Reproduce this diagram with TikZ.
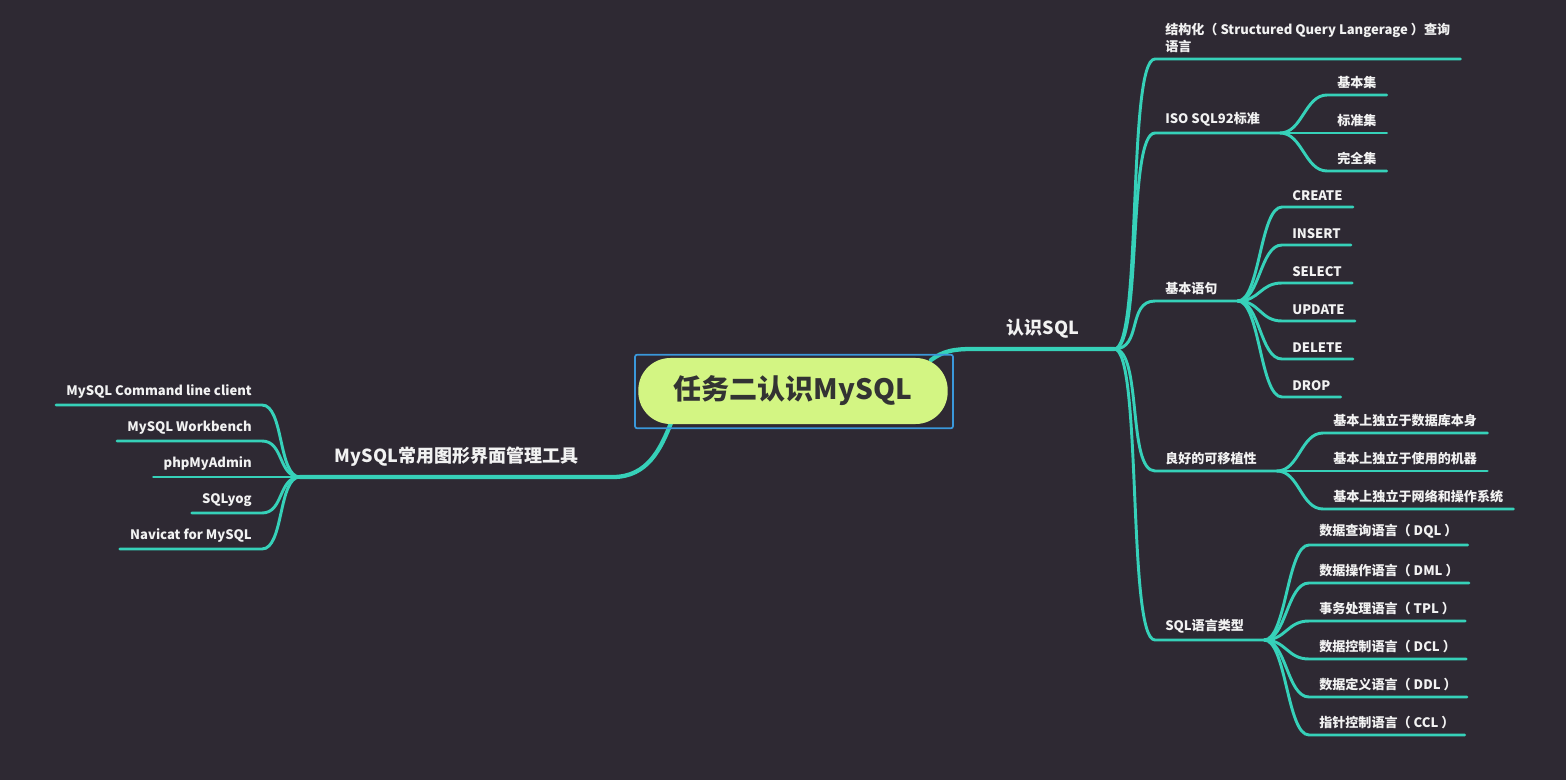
\documentclass[tikz,border=0pt]{standalone}
\usepackage{fontspec}
\setmainfont{Noto Sans CJK SC}
\usetikzlibrary{positioning}
\definecolor{bgdark}{HTML}{2E2933}
\definecolor{branchcol}{HTML}{36D1B9}
\definecolor{rootfill}{HTML}{D3F583}
\definecolor{framecol}{HTML}{3A98DB}
\definecolor{roottext}{HTML}{333333}
\definecolor{leaftext}{HTML}{F2F2F2}
\tikzset{
  root/.style={fill=rootfill,text=roottext,rounded corners=24pt,minimum width=232pt,
    minimum height=49.5pt,font=\fontsize{21}{25}\selectfont\bfseries},
  rootframe/.style={draw=framecol,line width=1.3pt,rounded corners=1.5pt},
  topic/.style={text=leaftext,font=\fontsize{13.5}{16}\selectfont\bfseries,inner xsep=26pt,inner ysep=8pt},
  subtopic/.style={text=leaftext,font=\fontsize{9.8}{12.75}\selectfont\bfseries,inner xsep=7.5pt,inner ysep=4.6pt,align=left},
  mainline/.style={draw=branchcol,line width=3.2pt,line cap=round},
  twig/.style={draw=branchcol,line width=2.2pt,line cap=round}
}

\begin{document}
\begin{tikzpicture}[x=0.75pt,y=-0.75pt]
    % Background and page size
    \fill[bgdark] (0,0) rectangle (1566,780);
    \useasboundingbox (0,0) rectangle (1566,780);

    % Main branches (drawn first, the central topic goes on top)
    \node[topic,anchor=south west] (sql) at (972,349) {认识SQL};
    \node[topic,anchor=south west] (tools) at (300,477) {MySQL常用图形界面管理工具};
    \coordinate (rootne) at (931,360);
    \coordinate (rootsw) at (671,423);
    \draw[mainline] (rootne) .. controls +(12,-9) and +(-18,0) .. (sql.south west) -- (sql.south east);
    \draw[mainline] (rootsw) .. controls +(-10,25) and +(35,0) .. (tools.south east) -- (tools.south west);

    % Central topic and its frame
    \node[root] (root) at (793,391) {任务二认识MySQL};
    \draw[rootframe] ([shift={(-3,-3)}]root.north west) rectangle ([shift={(5,4)}]root.south east);

    % Second level on the right
    \node[subtopic,anchor=south west] (sqldef) at (1155,59) {结构化（ Structured Query Langerage ）查询\\语言};
    \draw[twig] (sql.south east) .. controls +(28,0) and +(-28,0) .. (sqldef.south west) -- (sqldef.south east);
    \node[subtopic,anchor=south west] (iso) at (1155,133) {ISO SQL92标准};
    \node[subtopic,anchor=south west] (stmt) at (1155,301) {基本语句};
    \node[subtopic,anchor=south west] (port) at (1155,471) {良好的可移植性};
    \node[subtopic,anchor=south west] (kind) at (1155,640) {SQL语言类型};
    \foreach \n in {iso,stmt,port,kind}
      \draw[twig] (sql.south east) .. controls +(28,0) and +(-28,0) .. (\n.south west)
        -- ([xshift=7.5pt]\n.south east) coordinate (\n-j);

    % Leaves of ISO SQL92
    \foreach \y/\txt in {95/基本集,133/标准集,171/完全集}{
      \node[subtopic,anchor=south west] (iso-\y) at (1327,\y) {\txt};
      \draw[twig] (iso-j) .. controls +(22,0) and +(-22,0) .. (iso-\y.south west) -- (iso-\y.south east);
    }
    % Leaves of the basic statements
    \foreach \y/\txt in {207/CREATE,245/INSERT,283/SELECT,321/UPDATE,359/DELETE,397/DROP}{
      \node[subtopic,anchor=south west] (stmt-\y) at (1282,\y) {\txt};
      \draw[twig] (stmt-j) .. controls +(22,0) and +(-22,0) .. (stmt-\y.south west) -- (stmt-\y.south east);
    }
    % Leaves of portability
    \foreach \y/\txt in {433/基本上独立于数据库本身,471/基本上独立于使用的机器,509/基本上独立于网络和操作系统}{
      \node[subtopic,anchor=south west] (port-\y) at (1323,\y) {\txt};
      \draw[twig] (port-j) .. controls +(22,0) and +(-22,0) .. (port-\y.south west) -- (port-\y.south east);
    }
    % Leaves of the language types
    \foreach \y/\txt in {545/数据查询语言（ DQL ）,583/数据操作语言（ DML ）,621/事务处理语言（ TPL ）,
                         659/数据控制语言（ DCL ）,697/数据定义语言（ DDL ）,735/指针控制语言（ CCL ）}{
      \node[subtopic,anchor=south west] (kind-\y) at (1309,\y) {\txt};
      \draw[twig] (kind-j) .. controls +(22,0) and +(-22,0) .. (kind-\y.south west) -- (kind-\y.south east);
    }

    % Leaves on the left
    \foreach \y/\txt in {405/MySQL Command line client,441/MySQL Workbench,477/phpMyAdmin,
                         513/SQLyog,549/Navicat for MySQL}{
      \node[subtopic,anchor=south east] (tool-\y) at (262,\y) {\txt};
      \draw[twig] (tools.south west) .. controls +(-22,0) and +(22,0) .. (tool-\y.south east) -- (tool-\y.south west);
    }
\end{tikzpicture}
\end{document}
